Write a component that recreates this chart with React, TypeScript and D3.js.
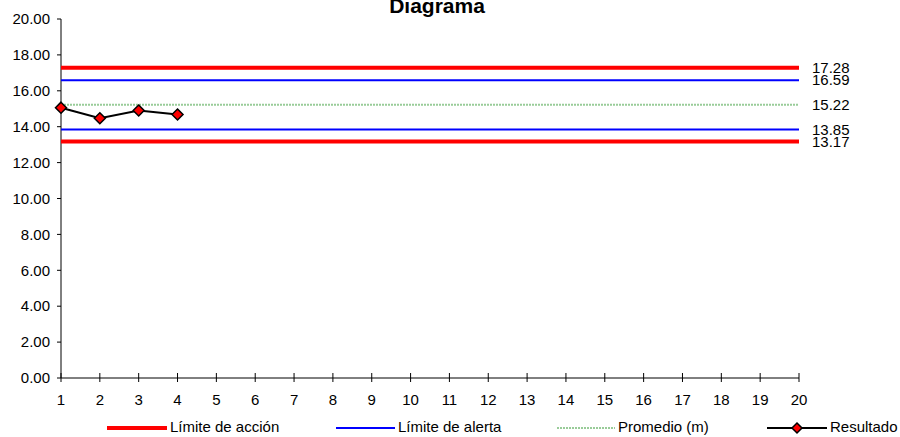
import * as d3 from "d3";

const xValues = Array.from({ length: 20 }, (_, i) => i + 1);
const yTicks = [0, 2, 4, 6, 8, 10, 12, 14, 16, 18, 20];

const limiteAccion = [17.28, 13.17];
const limiteAlerta = [16.59, 13.85];
const promedio = 15.22;
const resultado = [15.06, 14.47, 14.9, 14.68];

const W = 900;
const H = 437;
const font = "Arial, 'Liberation Sans', sans-serif";

const RED = "#ff0000";
const BLUE = "#0000ff";
const GREEN = "#99cc99";

function Diamond({ cx, cy, r = 5.5 }: { cx: number; cy: number; r?: number }) {
  return (
    <path
      d={`M${cx},${cy - r}L${cx + r},${cy}L${cx},${cy + r}L${cx - r},${cy}Z`}
      fill={RED}
      stroke="#000"
      strokeWidth={1.5}
    />
  );
}

export default function App() {
  const x = d3.scaleLinear().domain([1, 20]).range([61, 799]);
  const y = d3.scaleLinear().domain([0, 20]).range([378, 19]);

  const hline = (v: number) =>
    d3.line<number>().x(d => x(d)).y(() => y(v))([1, 20]) ?? "";

  const resultLine = d3
    .line<number>()
    .x((_, i) => x(xValues[i]))
    .y(d => y(d))(resultado) ?? "";

  const refLabels = [...limiteAccion, ...limiteAlerta, promedio];

  const legend = [
    { x1: 107, x2: 167, tx: 170, label: "Límite de acción", color: RED, w: 4, dash: "" },
    { x1: 336, x2: 395, tx: 398, label: "Límite de alerta", color: BLUE, w: 2, dash: "" },
    { x1: 557, x2: 615, tx: 618, label: "Promedio (m)", color: GREEN, w: 2, dash: "2,1" },
    { x1: 767, x2: 827, tx: 830, label: "Resultado", color: "#000", w: 2, dash: "" }
  ];

  return (
    <svg
      width={W}
      height={H}
      style={{ position: "absolute", left: 0, top: 0, background: "#fff" }}
      fontFamily={font}
    >
      <text x={437} y={12.5} textAnchor="middle" fontSize={21} fontWeight="bold">
        Diagrama
      </text>

      {/* y axis */}
      <line x1={x(1)} x2={x(1)} y1={y(20)} y2={y(0)} stroke="#000" strokeWidth={1} />
      {yTicks.map(t => (
        <g key={t}>
          <line x1={x(1) - 4} x2={x(1)} y1={y(t)} y2={y(t)} stroke="#000" />
          <text x={50} y={y(t)} dy="0.35em" textAnchor="end" fontSize={15}>
            {t.toFixed(2)}
          </text>
        </g>
      ))}

      {/* x axis */}
      <line x1={x(1)} x2={x(20)} y1={y(0)} y2={y(0)} stroke="#000" strokeWidth={1} />
      {xValues.map(v => (
        <g key={v}>
          <line x1={x(v)} x2={x(v)} y1={y(0) - 5} y2={y(0) + 4} stroke="#000" />
          <text x={x(v)} y={405} textAnchor="middle" fontSize={15}>
            {v}
          </text>
        </g>
      ))}

      {/* control lines */}
      <path d={hline(promedio)} stroke={GREEN} strokeWidth={2} strokeDasharray="2,1" fill="none" />
      {limiteAlerta.map(v => (
        <path key={"b" + v} d={hline(v)} stroke={BLUE} strokeWidth={2} fill="none" />
      ))}
      {limiteAccion.map(v => (
        <path key={"r" + v} d={hline(v)} stroke={RED} strokeWidth={4} fill="none" />
      ))}

      {refLabels.map(v => (
        <text key={"l" + v} x={812} y={y(v)} dy="0.35em" fontSize={15}>
          {v.toFixed(2)}
        </text>
      ))}

      {/* results */}
      <path d={resultLine} stroke="#000" strokeWidth={2} fill="none" />
      {resultado.map((v, i) => (
        <Diamond key={i} cx={x(xValues[i])} cy={y(v)} />
      ))}

      {/* legend */}
      {legend.map(l => (
        <g key={l.label}>
          <line
            x1={l.x1}
            x2={l.x2}
            y1={428}
            y2={428}
            stroke={l.color}
            strokeWidth={l.w}
            strokeDasharray={l.dash || undefined}
          />
          {l.label === "Resultado" && <Diamond cx={(l.x1 + l.x2) / 2} cy={428} r={5} />}
          <text x={l.tx} y={432} fontSize={15}>
            {l.label}
          </text>
        </g>
      ))}
    </svg>
  );
}
